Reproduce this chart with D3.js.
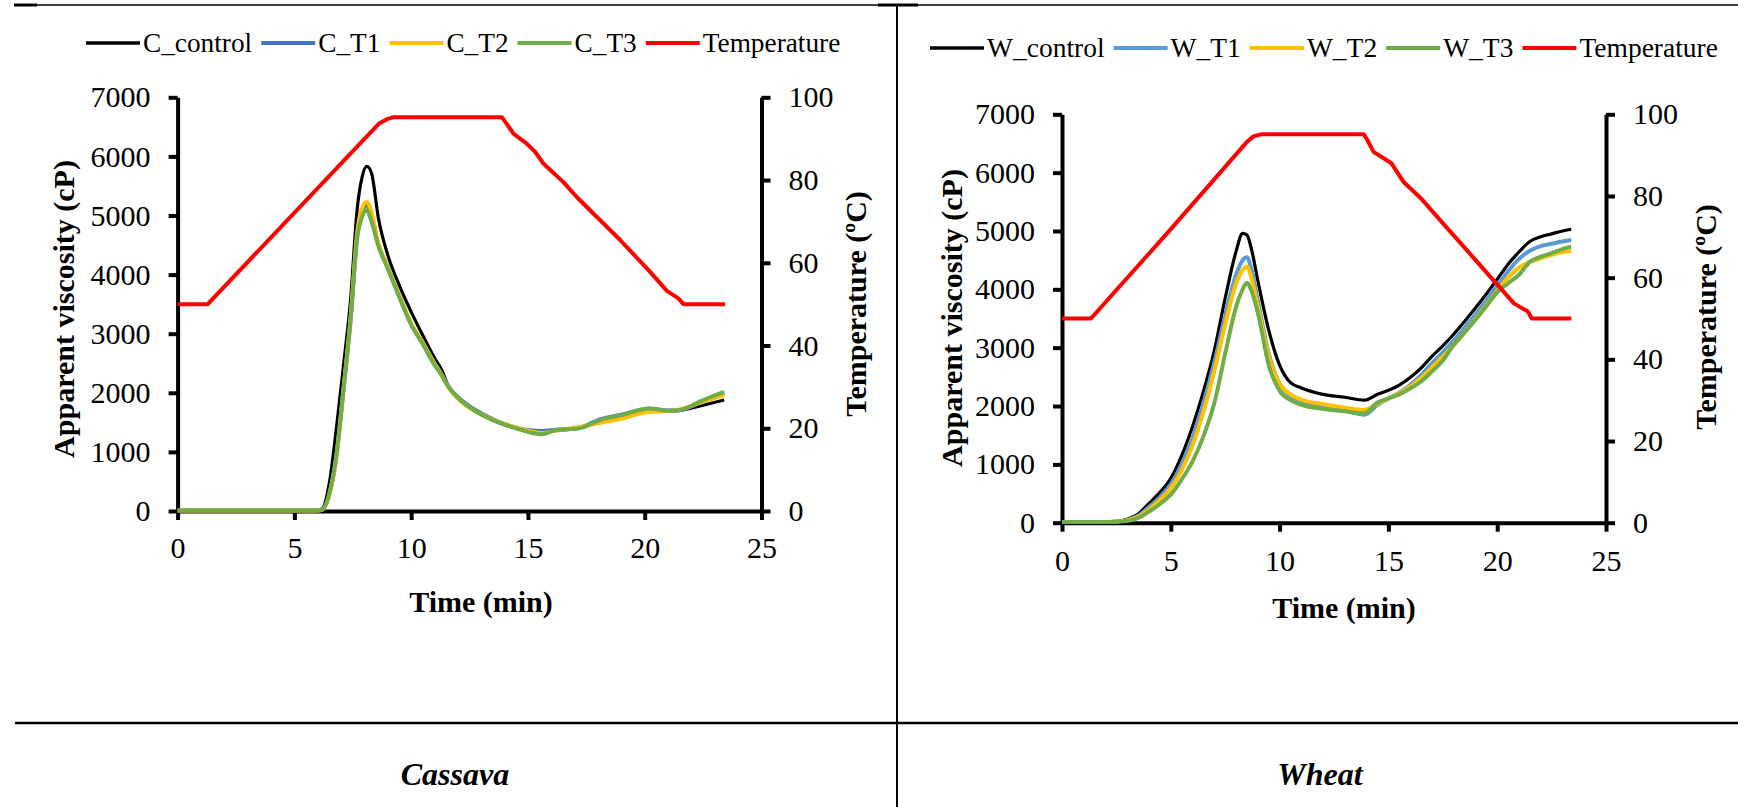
<!DOCTYPE html>
<html>
<head>
<meta charset="utf-8">
<script src="https://cdn.jsdelivr.net/npm/d3@7"></script>
<style>
  body { margin: 0; background: #fff; }
</style>
</head>
<body>
<svg id="fig" width="1738" height="807"></svg>
<script>
// ---- data ----
const timeTicks = [0, 5, 10, 15, 20, 25];
const viscTicks = [0, 1000, 2000, 3000, 4000, 5000, 6000, 7000];
const tempTicks = [0, 20, 40, 60, 80, 100];

// Cassava
const cassavaTime = [0, 2, 4, 6, 6.2, 6.5, 6.8, 7.1, 7.4, 7.7, 7.9, 8.1, 8.3, 8.6, 9.0, 9.5, 10, 10.5, 11, 11.3, 11.6, 12.2, 13.2, 14.5, 15.6, 16.2, 17.2, 18.1, 19, 20.2, 21, 21.5, 22.5, 23.4];
const cControl = [10, 10, 10, 10, 40, 480, 1400, 2450, 3550, 5150, 5650, 5830, 5720, 4950, 4330, 3810, 3370, 2970, 2590, 2390, 2110, 1840, 1590, 1400, 1320, 1360, 1400, 1530, 1620, 1720, 1690, 1700, 1790, 1877];
const cT1 = [10, 10, 10, 10, 25, 290, 930, 2040, 3220, 4700, 5060, 5180, 5000, 4500, 4115, 3625, 3165, 2835, 2485, 2310, 2105, 1860, 1610, 1410, 1353, 1375, 1410, 1550, 1630, 1730, 1700, 1705, 1860, 1990];
const cT2 = [10, 10, 10, 10, 25, 280, 920, 2050, 3250, 4750, 5120, 5230, 5050, 4530, 4130, 3640, 3180, 2850, 2500, 2310, 2090, 1830, 1600, 1410, 1320, 1360, 1420, 1494, 1560, 1680, 1690, 1720, 1850, 1960];
const cT3 = [10, 10, 10, 10, 25, 300, 950, 2050, 3200, 4650, 4980, 5090, 4900, 4480, 4100, 3610, 3150, 2820, 2470, 2300, 2102, 1848, 1595, 1398, 1297, 1370, 1398, 1539, 1623, 1736, 1696, 1708, 1877, 2017];
const cassavaTempTime = [0, 1.29, 8.61, 9.0, 9.25, 13.88, 14.1, 14.38, 14.95, 15.31, 15.66, 16.52, 17.09, 17.66, 18.95, 20.23, 20.95, 21.44, 21.66, 23.44];
const cassavaTemp = [50, 50, 93.6, 94.8, 95.2, 95.2, 93.5, 91.2, 88.8, 86.8, 84.0, 79.5, 75.9, 72.7, 65.5, 57.8, 53.2, 51.4, 50, 50];

// Wheat
const wheatTime = [0, 1, 2, 2.5, 3, 3.5, 4, 4.5, 5, 5.5, 6, 6.5, 7, 7.5, 8, 8.3, 8.5, 8.7, 9, 9.5, 10, 10.5, 11, 12, 13, 13.9, 14.5, 15, 15.5, 16, 16.5, 17, 17.5, 18, 18.5, 19, 19.5, 20, 20.5, 21, 21.5, 22, 22.5, 23, 23.4];
const wControl = [10, 10, 10, 25, 60, 150, 330, 520, 760, 1150, 1650, 2250, 2950, 3850, 4650, 4960, 4930, 4700, 4150, 3300, 2700, 2400, 2310, 2200, 2150, 2100, 2200, 2270, 2360, 2490, 2650, 2850, 3030, 3230, 3450, 3680, 3920, 4170, 4430, 4640, 4820, 4900, 4950, 5000, 5030];
const wT1 = [10, 10, 10, 20, 45, 120, 270, 440, 660, 1000, 1450, 2050, 2750, 3550, 4250, 4500, 4550, 4350, 3800, 2900, 2380, 2170, 2080, 1990, 1920, 1850, 2020, 2130, 2230, 2360, 2530, 2730, 2920, 3120, 3340, 3570, 3810, 4060, 4310, 4520, 4660, 4740, 4780, 4820, 4846];
const wT2 = [10, 10, 10, 20, 40, 100, 230, 390, 590, 900, 1330, 1900, 2600, 3400, 4100, 4330, 4390, 4200, 3700, 2850, 2380, 2200, 2110, 2030, 1970, 1932, 2040, 2130, 2220, 2330, 2480, 2660, 2850, 3040, 3260, 3490, 3730, 3970, 4200, 4370, 4470, 4530, 4590, 4640, 4663];
const wT3 = [10, 10, 10, 18, 30, 80, 190, 320, 480, 740, 1050, 1480, 2050, 2900, 3700, 4000, 4114, 3980, 3600, 2700, 2260, 2100, 2020, 1950, 1910, 1874, 2060, 2130, 2200, 2300, 2420, 2590, 2780, 3050, 3260, 3480, 3710, 3950, 4100, 4250, 4470, 4560, 4620, 4690, 4731];
const wheatTempTime = [0, 1.33, 4.97, 8.51, 8.8, 9.14, 13.87, 14.0, 14.32, 15.14, 15.69, 16.5, 16.96, 19.14, 20.77, 21.41, 21.59, 23.41];
const wheatTemp = [50, 50, 71.7, 93.3, 94.6, 95.1, 95.1, 94.0, 90.8, 88.0, 83.5, 79.4, 76.6, 63.5, 53.7, 51.7, 50, 50];

const FONT = "'Liberation Serif', 'Times New Roman', Times, serif";
const svg = d3.select("#fig");
svg.append("rect").attr("width", 1738).attr("height", 807).attr("fill", "#fff");

// table lines
const table = svg.append("g").attr("stroke", "#000");
table.append("line").attr("x1", 14).attr("x2", 1738).attr("y1", 5).attr("y2", 5).attr("stroke-width", 1.5);
table.append("line").attr("x1", 14).attr("x2", 37).attr("y1", 5).attr("y2", 5).attr("stroke-width", 3);
table.append("line").attr("x1", 878).attr("x2", 918).attr("y1", 5).attr("y2", 5).attr("stroke-width", 3);
table.append("line").attr("x1", 897).attr("x2", 897).attr("y1", 4).attr("y2", 807).attr("stroke-width", 2);
table.append("line").attr("x1", 15).attr("x2", 1738).attr("y1", 723).attr("y2", 723).attr("stroke-width", 2.5);

svg.append("text").attr("x", 455).attr("y", 785).attr("text-anchor", "middle")
  .attr("font-size", 32).attr("font-weight", "bold").attr("font-style", "italic").text("Cassava");
svg.append("text").attr("x", 1320).attr("y", 785).attr("text-anchor", "middle")
  .attr("font-size", 32).attr("font-weight", "bold").attr("font-style", "italic").text("Wheat");

function drawPanel(o) {
  const g = svg.append("g");
  const x = d3.scaleLinear().domain([0, 25]).range([o.left, o.right]);
  const y = d3.scaleLinear().domain([0, 7000]).range([o.bottom, o.top]);
  const y2 = d3.scaleLinear().domain([0, 100]).range([o.bottom, o.top]);

  function styleAxis(ax) {
    ax.attr("font-size", 30);
    ax.select(".domain").attr("stroke-width", 4);
    ax.selectAll(".tick line").attr("stroke-width", 4);
    ax.selectAll(".tick text").attr("fill", "#000");
  }

  const xa = g.append("g").attr("transform", `translate(0,${o.bottom})`)
    .call(d3.axisBottom(x).tickValues(timeTicks).tickFormat(d3.format("d")).tickSize(9).tickSizeOuter(0));
  styleAxis(xa);
  xa.selectAll(".tick text").attr("dy", null).attr("y", o.xTickDy);

  const ya = g.append("g").attr("transform", `translate(${o.left},0)`)
    .call(d3.axisLeft(y).tickValues(viscTicks).tickFormat(d3.format("d")).tickSize(9).tickPadding(18).tickSizeOuter(0));
  styleAxis(ya);

  const ya2 = g.append("g").attr("transform", `translate(${o.right},0)`)
    .call(d3.axisRight(y2).tickValues(tempTicks).tickFormat(d3.format("d")).tickSize(9).tickPadding(18).tickSizeOuter(0));
  styleAxis(ya2);

  // axis titles
  g.append("text").attr("x", o.xTitleX).attr("y", o.xTitleY).attr("text-anchor", "middle")
    .attr("font-size", 30).attr("font-weight", "bold").text("Time (min)");
  g.append("text").attr("transform", `translate(${o.yTitleX},${o.yTitleY}) rotate(-90)`)
    .attr("dy", "0.35em").attr("text-anchor", "middle")
    .attr("font-size", 30).attr("font-weight", "bold").text("Apparent viscosity (cP)");
  g.append("text").attr("transform", `translate(${o.y2TitleX},${o.y2TitleY}) rotate(-90)`)
    .attr("dy", "0.35em").attr("text-anchor", "middle")
    .attr("font-size", 30).attr("font-weight", "bold").text("Temperature (ºC)");

  // viscosity curves
  const line = d3.line()
    .x((d, i) => x(o.time[i]))
    .y(d => y(d))
    .curve(d3.curveMonotoneX);
  o.series.forEach(s => {
    g.append("path").datum(s.values)
      .attr("fill", "none").attr("stroke", s.color).attr("stroke-width", s.width)
      .attr("stroke-linejoin", "round").attr("d", line);
  });

  // temperature curve on the secondary axis
  const tline = d3.line()
    .x((d, i) => x(o.tempTime[i]))
    .y(d => y2(d));
  g.append("path").datum(o.temp)
    .attr("fill", "none").attr("stroke", "#FF0000").attr("stroke-width", 4)
    .attr("stroke-linejoin", "round").attr("d", tline);

  // legend
  const items = o.series.map(s => ({ name: s.name, color: s.color, width: s.width }))
    .concat([{ name: "Temperature", color: "#FF0000", width: 4 }]);
  let cx = o.legendX;
  items.forEach(it => {
    g.append("line").attr("x1", cx).attr("x2", cx + 54).attr("y1", o.legendY).attr("y2", o.legendY)
      .attr("stroke", it.color).attr("stroke-width", it.width < 4 ? 3.5 : 4);
    const t = g.append("text").attr("x", cx + 57).attr("y", o.legendY).attr("dy", "0.34em")
      .attr("font-size", o.legendFont).style("font-family", FONT).text(it.name);
    cx += 57 + t.node().getComputedTextLength() + 9;
  });
}

drawPanel({
  left: 177.6, right: 761.5, top: 97.3, bottom: 511,
  time: cassavaTime,
  series: [
    { name: "C_control", values: cControl, color: "#000000", width: 3.2 },
    { name: "C_T1", values: cT1, color: "#4472C4", width: 4 },
    { name: "C_T2", values: cT2, color: "#FFC000", width: 4 },
    { name: "C_T3", values: cT3, color: "#70AD47", width: 4 }
  ],
  tempTime: cassavaTempTime, temp: cassavaTemp,
  legendX: 86, legendY: 43, legendFont: 27.3,
  xTickDy: 47, xTitleX: 481, xTitleY: 612,
  yTitleX: 63, yTitleY: 309, y2TitleX: 855, y2TitleY: 304
});

drawPanel({
  left: 1062, right: 1606, top: 114.3, bottom: 522.7,
  time: wheatTime,
  series: [
    { name: "W_control", values: wControl, color: "#000000", width: 3.2 },
    { name: "W_T1", values: wT1, color: "#5B9BD5", width: 4 },
    { name: "W_T2", values: wT2, color: "#FFC000", width: 4 },
    { name: "W_T3", values: wT3, color: "#70AD47", width: 4 }
  ],
  tempTime: wheatTempTime, temp: wheatTemp,
  legendX: 930, legendY: 48, legendFont: 27.5,
  xTickDy: 48, xTitleX: 1344, xTitleY: 618,
  yTitleX: 951, yTitleY: 318, y2TitleX: 1705, y2TitleY: 317
});

// every text in the serif face, black
svg.selectAll("text").style("font-family", FONT).style("fill", "#000");
</script>
</body>
</html>
